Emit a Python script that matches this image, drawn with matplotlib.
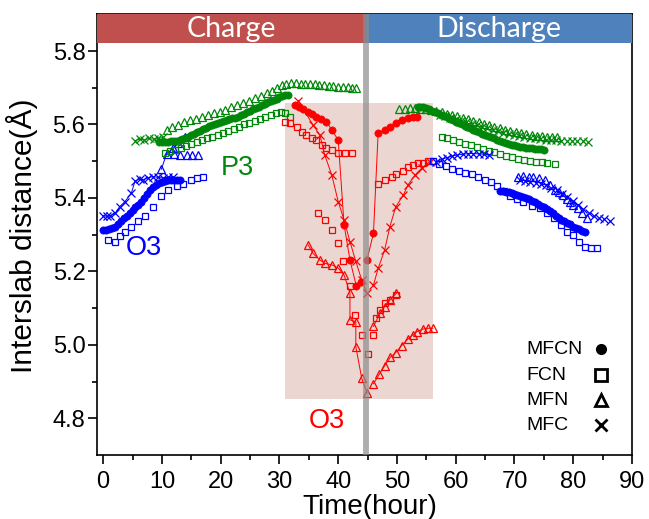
import numpy as np
import matplotlib
matplotlib.use('Agg')
import matplotlib.pyplot as plt
from matplotlib.patches import Rectangle

plt.rcParams['font.family'] = ['Liberation Sans', 'DejaVu Sans']

# ---------------- charge, O3 (blue) ----------------
b_mfcn_c_t = [0, 0.5, 1, 1.5, 2, 2.5, 3, 3.5, 4, 4.5, 5, 5.5, 6, 6.5, 7, 7.5, 8, 8.5, 9, 9.5, 10, 10.5, 11, 11.5, 12, 12.5, 13]
b_mfcn_c_y = [5.313, 5.313, 5.315, 5.318, 5.322, 5.33, 5.338, 5.345, 5.351, 5.359, 5.367, 5.374, 5.381, 5.39, 5.4, 5.411, 5.422, 5.43, 5.436, 5.44, 5.444, 5.447, 5.45, 5.449, 5.449, 5.45, 5.449]
b_fcn_c_t = [0.8, 2.0, 2.9, 3.7, 4.8, 6.0, 7.1, 8.5, 9.9, 11.1, 12.5, 13.6, 15.0, 16.0, 17.0]
b_fcn_c_y = [5.286, 5.281, 5.296, 5.308, 5.322, 5.336, 5.352, 5.376, 5.404, 5.422, 5.433, 5.438, 5.449, 5.454, 5.458]
b_mfc_c_t = [0, 0.6, 1.2, 2.0, 2.8, 3.7, 4.8, 5.4, 6.2, 6.8, 7.6, 8.5, 9.4, 10.2, 11.0, 11.9]
b_mfc_c_y = [5.352, 5.35, 5.352, 5.358, 5.376, 5.39, 5.413, 5.445, 5.452, 5.449, 5.455, 5.458, 5.456, 5.454, 5.457, 5.458]
b_mfn_c_t = [9.9, 10.8, 11.9, 12.8, 13.9]
b_mfn_c_y = [5.478, 5.52, 5.535, 5.549, 5.567]
b_mfn_c2_t = [12.0, 13.1, 14.2, 15.2, 16.2]
b_mfn_c2_y = [5.519, 5.518, 5.518, 5.517, 5.517]

# ---------------- charge, P3 (green) ----------------
g_mfcn_c_t = [9.5, 10, 10.5, 11, 11.5, 12, 12.5, 13, 13.5, 14, 14.5, 15, 15.5, 16, 16.5, 17, 17.5, 18, 18.5, 19, 19.5, 20, 20.5,
              21, 21.5, 22, 22.5, 23, 23.5, 24, 24.5, 25, 25.5, 26, 26.5, 27, 27.5, 28, 28.5, 29, 29.5, 30, 30.5, 31, 31.5]
g_mfcn_c_y = [5.553, 5.552, 5.553, 5.553, 5.554, 5.555, 5.556, 5.557, 5.56, 5.563, 5.567, 5.571, 5.575, 5.579, 5.583, 5.587,
              5.591, 5.595, 5.598, 5.601, 5.604, 5.607, 5.61, 5.613, 5.615, 5.617, 5.619, 5.621, 5.625, 5.629, 5.633, 5.637,
              5.641, 5.645, 5.648, 5.652, 5.656, 5.66, 5.663, 5.666, 5.67, 5.674, 5.677, 5.679, 5.68]
g_fcn_c_t = [10.5, 11.4, 12.3, 13.2, 14.1, 15.0, 15.9, 16.8, 17.7, 18.6, 19.5, 20.4, 21.3, 22.2, 23.1, 24.0, 24.9, 25.8, 26.7,
             27.6, 28.5, 29.4, 30.2, 31.0, 31.8]
g_fcn_c_y = [5.522, 5.528, 5.531, 5.535, 5.541, 5.547, 5.552, 5.557, 5.562, 5.567, 5.572, 5.577, 5.582, 5.588, 5.594, 5.6,
             5.605, 5.61, 5.616, 5.621, 5.627, 5.632, 5.635, 5.63, 5.62]
g_mfn_c_t = [10.8, 11.8, 12.8, 13.8, 14.8, 15.8, 16.8, 17.8, 18.8, 19.8, 20.8, 21.8, 22.8, 23.8, 24.8, 25.8, 26.8, 27.8, 28.8,
             29.6, 30.4, 31.2, 32.0, 32.8, 33.6, 34.4, 35.2, 36.0, 36.8, 37.6, 38.4, 39.2, 40.0, 40.8, 41.6, 42.4, 43.1]
g_mfn_c_y = [5.585, 5.592, 5.599, 5.606, 5.611, 5.615, 5.62, 5.626, 5.63, 5.635, 5.64, 5.647, 5.653, 5.658, 5.664, 5.671,
             5.678, 5.685, 5.692, 5.7, 5.707, 5.71, 5.712, 5.712, 5.711, 5.711, 5.71, 5.71, 5.708, 5.707, 5.706, 5.705,
             5.703, 5.702, 5.701, 5.7, 5.699]
g_mfc_c_t = [5.4, 6.2, 7.0, 7.8, 8.6, 9.4, 10.2]
g_mfc_c_y = [5.556, 5.56, 5.558, 5.562, 5.56, 5.562, 5.565]

# ---------------- charge, O3 (red) ----------------
r_mfcn_c_t = [32.6, 33.3, 34.0, 34.9, 35.6, 36.3, 37.1, 38.0, 38.9, 40.0, 41.0, 42.0, 43.1, 43.8]
r_mfcn_c_y = [5.653, 5.648, 5.641, 5.635, 5.628, 5.621, 5.615, 5.608, 5.585, 5.558, 5.327, 5.231, 5.159, 5.17]
r_fcn_c_t = [31.0, 31.8, 33.0, 33.8, 34.6, 35.5, 36.3, 37.2, 38.0, 38.9, 40.0, 41.1, 42.3]
r_fcn_c_y = [5.608, 5.603, 5.594, 5.58, 5.571, 5.562, 5.558, 5.544, 5.535, 5.531, 5.522, 5.522, 5.522]
r_fcn_c2_t = [36.6, 37.7, 39.0, 39.9, 40.9, 42.0, 42.8, 44.0, 45.0]
r_fcn_c2_y = [5.358, 5.34, 5.313, 5.277, 5.227, 5.159, 5.082, 5.027, 4.976]
r_mfc_c_t = [33.2, 35.7, 36.9, 37.7, 38.9, 40.0, 41.0, 42.0, 43.0, 44.0, 44.9]
r_mfc_c_y = [5.665, 5.599, 5.571, 5.517, 5.463, 5.39, 5.34, 5.281, 5.227, 5.177, 5.14]
r_mfn_c_t = [34.9, 35.7, 36.9, 37.7, 38.9, 40.0, 41.0, 42.0, 42.0, 43.0, 43.0, 44.0, 44.9]
r_mfn_c_y = [5.272, 5.249, 5.231, 5.222, 5.218, 5.209, 5.19, 5.141, 5.068, 5.063, 4.995, 4.909, 4.869]

# ---------------- discharge, O3 (red) ----------------
r_mfcn_d_t = [44.9, 46.0, 46.8, 47.9, 48.8, 49.8, 50.8, 51.8, 52.7, 53.4]
r_mfcn_d_y = [5.231, 5.304, 5.578, 5.585, 5.594, 5.605, 5.612, 5.617, 5.62, 5.62]
r_fcn_d_t = [46.8, 47.9, 49.1, 49.9, 51.0, 51.9, 52.8, 53.6, 54.5, 55.3, 56.1]
r_fcn_d_y = [5.438, 5.449, 5.458, 5.465, 5.474, 5.483, 5.49, 5.494, 5.496, 5.5, 5.501]
r_fcn_d2_t = [46.0, 46.5, 47.1, 47.9, 48.8, 49.8]
r_fcn_d2_y = [5.027, 5.073, 5.095, 5.113, 5.122, 5.136]
r_mfc_d_t = [46.0, 46.8, 47.9, 48.8, 49.8, 51.1, 51.9, 53.1, 54.2, 55.6]
r_mfc_d_y = [5.163, 5.208, 5.258, 5.322, 5.376, 5.408, 5.436, 5.463, 5.481, 5.499]
r_mfn_d_t = [46.0, 47.0, 47.9, 48.9, 49.8, 50.8, 51.8, 52.7, 53.4, 54.4, 55.2, 56.1]
r_mfn_d_y = [4.894, 4.92, 4.943, 4.967, 4.979, 4.998, 5.015, 5.027, 5.036, 5.043, 5.045, 5.045]
r_mfn_d2_t = [46.0, 47.1, 47.9, 48.8, 49.9]
r_mfn_d2_y = [5.05, 5.086, 5.104, 5.122, 5.14]

# ---------------- discharge, P3 (green) ----------------
g_mfcn_d_t = [53.5, 54, 54.5, 55, 55.5, 56, 56.5, 57, 57.5, 58, 58.5, 59, 59.5, 60, 60.5, 61, 61.5, 62, 62.5, 63, 63.5, 64,
              64.5, 65, 65.5, 66, 66.5, 67, 67.5, 68, 68.5, 69, 69.5, 70, 70.5, 71, 71.5, 72, 72.5, 73, 73.5, 74, 74.5, 75]
g_mfcn_d_y = [5.647, 5.648, 5.648, 5.645, 5.641, 5.637, 5.634, 5.631, 5.627, 5.624, 5.62, 5.616, 5.612, 5.608, 5.604, 5.6,
              5.597, 5.593, 5.59, 5.586, 5.583, 5.579, 5.575, 5.572, 5.568, 5.565, 5.562, 5.559, 5.556, 5.553, 5.55, 5.547,
              5.545, 5.543, 5.541, 5.539, 5.538, 5.537, 5.536, 5.535, 5.534, 5.533, 5.532, 5.531]
g_mfn_d_t = [50.4, 51.3, 52.2, 53.1, 54.0, 54.9, 55.8, 56.7, 57.6, 58.5, 59.4, 60.3, 61.2, 62.1, 63.0, 63.9, 64.8, 65.7,
             66.6, 67.5, 68.4, 69.3, 70.2, 71.1, 72.0, 72.9, 73.8, 74.7, 75.6, 76.4, 77.2]
g_mfn_d_y = [5.641, 5.643, 5.644, 5.644, 5.643, 5.641, 5.639, 5.636, 5.633, 5.629, 5.625, 5.622, 5.618, 5.614, 5.61, 5.606,
             5.602, 5.598, 5.594, 5.59, 5.586, 5.583, 5.58, 5.576, 5.573, 5.571, 5.569, 5.568, 5.567, 5.567, 5.566]
g_mfc_d_t = [57.3, 58.2, 59.1, 60.0, 60.9, 61.8, 62.7, 63.6, 64.5, 65.4, 66.3, 67.2, 68.1, 69.0, 69.9, 70.8, 71.7, 72.6,
             73.5, 74.4, 75.3, 76.2, 77.1, 78.0, 78.9, 79.8, 80.7, 81.6, 82.5]
g_mfc_d_y = [5.626, 5.622, 5.618, 5.614, 5.61, 5.606, 5.602, 5.598, 5.594, 5.59, 5.586, 5.582, 5.578, 5.575, 5.572, 5.569,
             5.566, 5.564, 5.562, 5.56, 5.559, 5.558, 5.557, 5.556, 5.555, 5.555, 5.554, 5.554, 5.553]
g_fcn_d_t = [57.6, 58.6, 59.6, 60.6, 61.6, 62.6, 63.6, 64.6, 65.6, 66.6, 67.6, 68.6, 69.6, 70.6, 71.6, 72.6, 73.6, 74.6,
             75.6, 76.9]
g_fcn_d_y = [5.567, 5.563, 5.558, 5.553, 5.548, 5.543, 5.538, 5.533, 5.528, 5.524, 5.519, 5.515, 5.511, 5.507, 5.504, 5.501,
             5.499, 5.497, 5.495, 5.493]

# ---------------- discharge, O3 (blue) ----------------
b_fcn_d_t = [56.1, 57.2, 58.3, 59.4, 60.5, 61.6, 62.7, 63.8, 64.9, 66.0, 67.1, 68.2, 69.3, 70.4, 71.5, 72.9, 74.3, 75.5,
             76.8, 78.0, 78.9, 80.0, 80.9, 82.0, 83.1, 84.0]
b_fcn_d_y = [5.501, 5.493, 5.486, 5.48, 5.474, 5.469, 5.464, 5.458, 5.45, 5.443, 5.433, 5.42, 5.406, 5.397, 5.388, 5.378,
             5.372, 5.36, 5.345, 5.325, 5.308, 5.299, 5.281, 5.267, 5.263, 5.263]
b_mfcn_d_t = [67.5, 68, 68.5, 69, 69.5, 70, 70.5, 71, 71.5, 72, 72.5, 73, 73.5, 74, 74.5, 75, 75.5, 76, 76.5, 77, 77.5, 78,
              78.5, 79, 79.5, 80, 80.5, 81, 81.5, 82]
b_mfcn_d_y = [5.42, 5.418, 5.417, 5.415, 5.413, 5.41, 5.408, 5.405, 5.402, 5.399, 5.396, 5.392, 5.388, 5.384, 5.379, 5.375,
              5.37, 5.364, 5.358, 5.352, 5.346, 5.34, 5.336, 5.332, 5.328, 5.322, 5.318, 5.315, 5.311, 5.308]
b_mfn_d_t = [70.6, 71.5, 72.4, 73.2, 74.2, 75.2, 76.0, 76.9, 77.6, 78.3, 79.0, 79.4, 80.0, 80.8, 81.5, 82.3]
b_mfn_d_y = [5.458, 5.46, 5.458, 5.458, 5.453, 5.449, 5.436, 5.422, 5.415, 5.408, 5.397, 5.39, 5.382, 5.372, 5.36, 5.345]
b_mfc_d_t = [56.7, 57.6, 58.5, 59.4, 60.3, 61.2, 62.1, 63.0, 63.9, 64.8, 65.7]
b_mfc_d_y = [5.499, 5.505, 5.51, 5.514, 5.517, 5.519, 5.521, 5.521, 5.52, 5.519, 5.516]
b_mfc_d2_t = [70.9, 71.8, 72.7, 73.6, 74.5, 75.4, 76.3, 77.2, 78.1, 79.0, 79.9, 80.8, 81.7, 82.6, 83.5, 84.4, 85.3, 86.2]
b_mfc_d2_y = [5.45, 5.447, 5.444, 5.441, 5.438, 5.434, 5.428, 5.421, 5.412, 5.402, 5.392, 5.38, 5.37, 5.36, 5.352, 5.346,
              5.342, 5.338]

legend_names = ['MFCN', 'FCN', 'MFN', 'MFC']

BLUE = '#0000FF'
GREEN = '#00870A'
RED = '#FF0000'

STYLE = {'MFCN': dict(marker='o', ms=5.2, mfc='c', mew=0.5),
         'FCN': dict(marker='s', ms=4.5, mfc='none', mew=0.9),
         'MFN': dict(marker='^', ms=5.2, mfc='none', mew=0.9),
         'MFC': dict(marker='x', ms=5.2, mfc='none', mew=0.9)}


def draw(ax, t, y, kind, color, line=False):
    st = dict(STYLE[kind])
    if st['mfc'] == 'c':
        st['mfc'] = color
    ax.plot(t, y, color=color, mec=color, ls='-' if line else 'none', lw=0.7, zorder=3, **st)


fig = plt.figure(figsize=(6.49, 5.19), dpi=100)
ax = fig.add_axes([0.1499, 0.1233, 0.8239, 0.8491])

# shaded O3 region
ax.add_patch(Rectangle((31.0, 4.852), 56.2 - 31.0, 5.658 - 4.852, facecolor='#EBD6D1', edgecolor='none', zorder=0))

# blue charge
draw(ax, b_mfc_c_t, b_mfc_c_y, 'MFC', BLUE, line=True)
draw(ax, b_mfn_c_t, b_mfn_c_y, 'MFN', BLUE, line=True)
draw(ax, b_mfn_c2_t, b_mfn_c2_y, 'MFN', BLUE)
draw(ax, b_fcn_c_t, b_fcn_c_y, 'FCN', BLUE)
draw(ax, b_mfcn_c_t, b_mfcn_c_y, 'MFCN', BLUE)
# green charge
draw(ax, g_mfc_c_t, g_mfc_c_y, 'MFC', GREEN, line=True)
draw(ax, g_mfn_c_t, g_mfn_c_y, 'MFN', GREEN)
draw(ax, g_fcn_c_t, g_fcn_c_y, 'FCN', GREEN)
draw(ax, g_mfcn_c_t, g_mfcn_c_y, 'MFCN', GREEN)
# red charge
draw(ax, r_mfcn_c_t, r_mfcn_c_y, 'MFCN', RED, line=True)
draw(ax, r_fcn_c_t, r_fcn_c_y, 'FCN', RED)
draw(ax, r_fcn_c2_t, r_fcn_c2_y, 'FCN', RED)
draw(ax, r_mfc_c_t, r_mfc_c_y, 'MFC', RED, line=True)
draw(ax, r_mfn_c_t, r_mfn_c_y, 'MFN', RED, line=True)
# red discharge
draw(ax, r_mfcn_d_t, r_mfcn_d_y, 'MFCN', RED, line=True)
draw(ax, r_fcn_d_t, r_fcn_d_y, 'FCN', RED)
draw(ax, r_fcn_d2_t, r_fcn_d2_y, 'FCN', RED)
draw(ax, r_mfc_d_t, r_mfc_d_y, 'MFC', RED, line=True)
draw(ax, r_mfn_d_t, r_mfn_d_y, 'MFN', RED, line=True)
draw(ax, r_mfn_d2_t, r_mfn_d2_y, 'MFN', RED, line=True)
# green discharge
draw(ax, g_mfc_d_t, g_mfc_d_y, 'MFC', GREEN)
draw(ax, g_mfn_d_t, g_mfn_d_y, 'MFN', GREEN)
draw(ax, g_fcn_d_t, g_fcn_d_y, 'FCN', GREEN)
draw(ax, g_mfcn_d_t, g_mfcn_d_y, 'MFCN', GREEN)
# blue discharge
draw(ax, b_fcn_d_t, b_fcn_d_y, 'FCN', BLUE)
draw(ax, b_mfc_d_t, b_mfc_d_y, 'MFC', BLUE, line=True)
draw(ax, b_mfc_d2_t, b_mfc_d2_y, 'MFC', BLUE)
draw(ax, b_mfn_d_t, b_mfn_d_y, 'MFN', BLUE)
draw(ax, b_mfcn_d_t, b_mfcn_d_y, 'MFCN', BLUE)

# header bars
ax.add_patch(Rectangle((-1, 5.821), 44.7 + 1, 5.9 - 5.821, facecolor='#C0504D', edgecolor='none', zorder=4))
ax.add_patch(Rectangle((44.7, 5.821), 90 - 44.7, 5.9 - 5.821, facecolor='#4F81BD', edgecolor='none', zorder=4))
ax.text(21.85, 5.861, 'Charge', color='white', fontsize=20.5, ha='center', va='center', zorder=5,
        family=['Lato', 'DejaVu Sans'])
ax.text(67.35, 5.861, 'Discharge', color='white', fontsize=20.5, ha='center', va='center', zorder=5,
        family=['Lato', 'DejaVu Sans'])

# divider between charge / discharge
ax.axvline(44.7, color='#8c8c8c', alpha=0.7, lw=4.2, zorder=6)

# phase labels
ax.text(6.9, 5.264, 'O3', color=BLUE, fontsize=19.5, ha='center', va='center')
ax.text(22.9, 5.482, 'P3', color=GREEN, fontsize=19.5, ha='center', va='center')
ax.text(38.0, 4.793, 'O3', color=RED, fontsize=19.5, ha='center', va='center')

# hand-made legend
leg_y = [0.2398, 0.1815, 0.1248, 0.068]
leg_mk = [dict(marker='o', ms=7, mfc='black', mec='black'),
          dict(marker='s', ms=8, mfc='none', mec='black', mew=2),
          dict(marker='^', ms=9, mfc='none', mec='black', mew=2),
          dict(marker='x', ms=8, mec='black', mew=2)]
for name, yy, mk in zip(legend_names, leg_y, leg_mk):
    ax.text(0.802, yy, name, transform=ax.transAxes, fontsize=14, ha='left', va='center')
    ax.plot([0.942], [yy], transform=ax.transAxes, ls='none', clip_on=False, zorder=5, **mk)

ax.set_xlim(-1, 90)
ax.set_ylim(4.7, 5.9)
ax.set_xticks(np.arange(0, 91, 10))
ax.set_xticks(np.arange(5, 90, 10), minor=True)
ax.set_yticks([4.8, 5.0, 5.2, 5.4, 5.6, 5.8])
ax.set_yticks([4.9, 5.1, 5.3, 5.5, 5.7], minor=True)
ax.yaxis.set_major_formatter(matplotlib.ticker.FormatStrFormatter('%.1f'))
ax.tick_params(which='major', direction='out', length=6.5, width=1.2, labelsize=17)
ax.tick_params(axis='x', which='major', pad=5)
ax.tick_params(axis='y', which='major', pad=2)
ax.tick_params(which='minor', direction='out', length=3.5, width=1.2)
for s in ax.spines.values():
    s.set_linewidth(1.2)

ax.set_xlabel('Time(hour)', fontsize=20)
ax.set_ylabel('Interslab distance(Å)', fontsize=21.5)
ax.xaxis.set_label_coords(0.51, -0.117)
ax.xaxis.label.set_verticalalignment('center')
ax.yaxis.set_label_coords(-0.14, 0.497)
ax.yaxis.label.set_verticalalignment('center')

fig.savefig('out.png', dpi=100)
